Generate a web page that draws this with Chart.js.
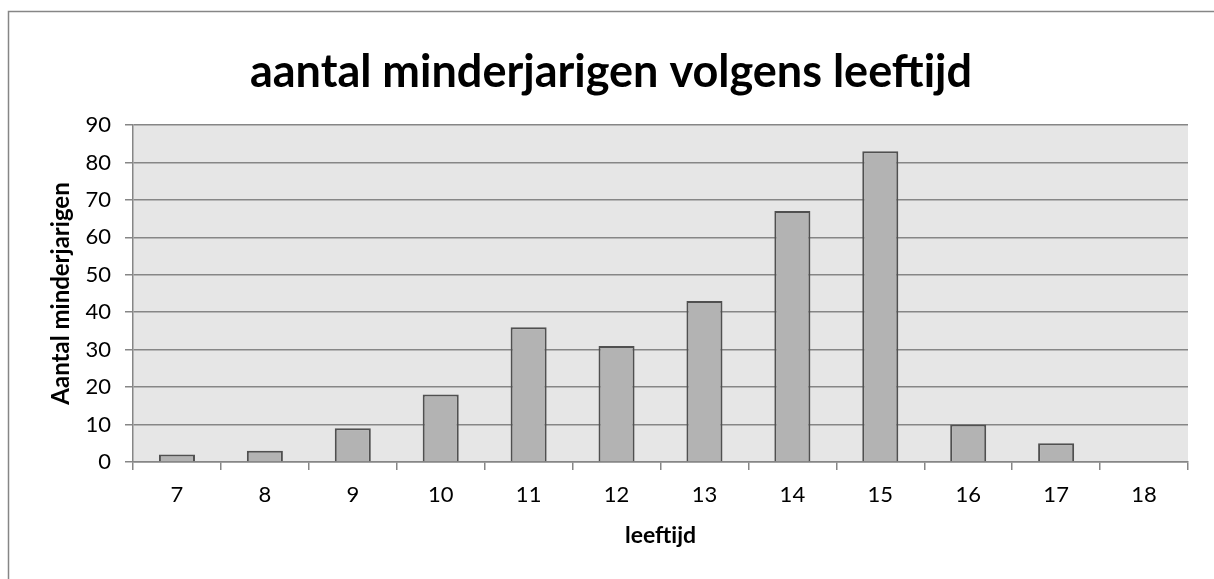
<!DOCTYPE html>
<html>
<head>
<meta charset="utf-8">
<script src="https://cdn.jsdelivr.net/npm/chart.js@4"></script>
<style>
  html, body { margin: 0; padding: 0; background: #ffffff; }
  #wrap { width: 1214px; height: 579px; }
</style>
</head>
<body>
<div id="wrap"><canvas id="ageChart" width="1214" height="579"></canvas></div>
<script>
const ages = ['7', '8', '9', '10', '11', '12', '13', '14', '15', '16', '17', '18'];
const minors = [2, 3, 9, 18, 36, 31, 43, 67, 83, 10, 5, 0];
const yTicks = [0, 10, 20, 30, 40, 50, 60, 70, 80, 90];

const chartTitle = 'aantal minderjarigen volgens leeftijd';
const xTitle = 'leeftijd';
const yTitle = 'Aantal minderjarigen';

const fontName = 'Lato, "Open Sans", sans-serif';
const gridGray = '#868686';

// plot area background + outer frame like the excel chart
const plotBackground = {
    id: 'plotBackground',
    beforeDraw(chart) {
        let ctx = chart.ctx;
        let a = chart.chartArea;
        ctx.save();
        ctx.strokeStyle = gridGray;
        ctx.lineWidth = 1.5;
        ctx.strokeRect(8.5, 11.5, 1400, 800);
        ctx.fillStyle = '#e6e6e6';
        ctx.fillRect(a.left, a.top, a.right - a.left, a.bottom - a.top);
        ctx.restore();
    }
};

function renderChart() {
    Chart.defaults.font.family = fontName;
    Chart.defaults.color = '#000000';
    let ctx = document.getElementById('ageChart');
    new Chart(ctx, {
        type: 'bar',
        data: {
            labels: ages,
            datasets: [{
                data: minors,
                backgroundColor: '#b3b3b3',
                borderColor: '#505050',
                borderWidth: 2,
                borderSkipped: 'bottom',
                categoryPercentage: 0.41,
                barPercentage: 1.0
            }]
        },
        options: {
            responsive: false,
            animation: false,
            layout: {
                padding: { left: 34, right: 26, top: 0, bottom: 0 }
            },
            scales: {
                x: {
                    offset: true,
                    afterFit: (scale) => { scale.height = 117; },
                    grid: {
                        offset: true,
                        drawOnChartArea: false,
                        drawTicks: true,
                        tickLength: 8,
                        color: gridGray,
                        lineWidth: 1.5
                    },
                    border: { display: true, color: gridGray, width: 1.5 },
                    ticks: {
                        padding: 12,
                        font: { size: 22 },
                        color: '#000000',
                        maxRotation: 0
                    },
                    title: {
                        display: true,
                        text: xTitle,
                        font: { size: 23, weight: 'bold' },
                        padding: { top: 0, bottom: 30 }
                    }
                },
                y: {
                    min: 0,
                    max: 90,
                    afterFit: (scale) => { scale.width = 99; },
                    afterBuildTicks: (scale) => {
                        scale.ticks = yTicks.map(v => ({ value: v }));
                    },
                    grid: {
                        drawTicks: true,
                        tickLength: 8,
                        color: gridGray,
                        lineWidth: 1.5
                    },
                    border: { display: true, color: gridGray, width: 1.5 },
                    ticks: {
                        padding: 14,
                        font: { size: 22 },
                        color: '#000000'
                    },
                    title: {
                        display: true,
                        text: yTitle,
                        font: { size: 24, weight: 'bold' },
                        padding: { top: 13, bottom: 0 }
                    }
                }
            },
            plugins: {
                legend: { display: false },
                tooltip: { enabled: false },
                title: {
                    display: true,
                    text: chartTitle,
                    color: '#000000',
                    font: { size: 45, weight: 'bold' },
                    padding: { top: 45, bottom: 26 }
                }
            }
        },
        plugins: [plotBackground]
    });
}

renderChart();
</script>
</body>
</html>
